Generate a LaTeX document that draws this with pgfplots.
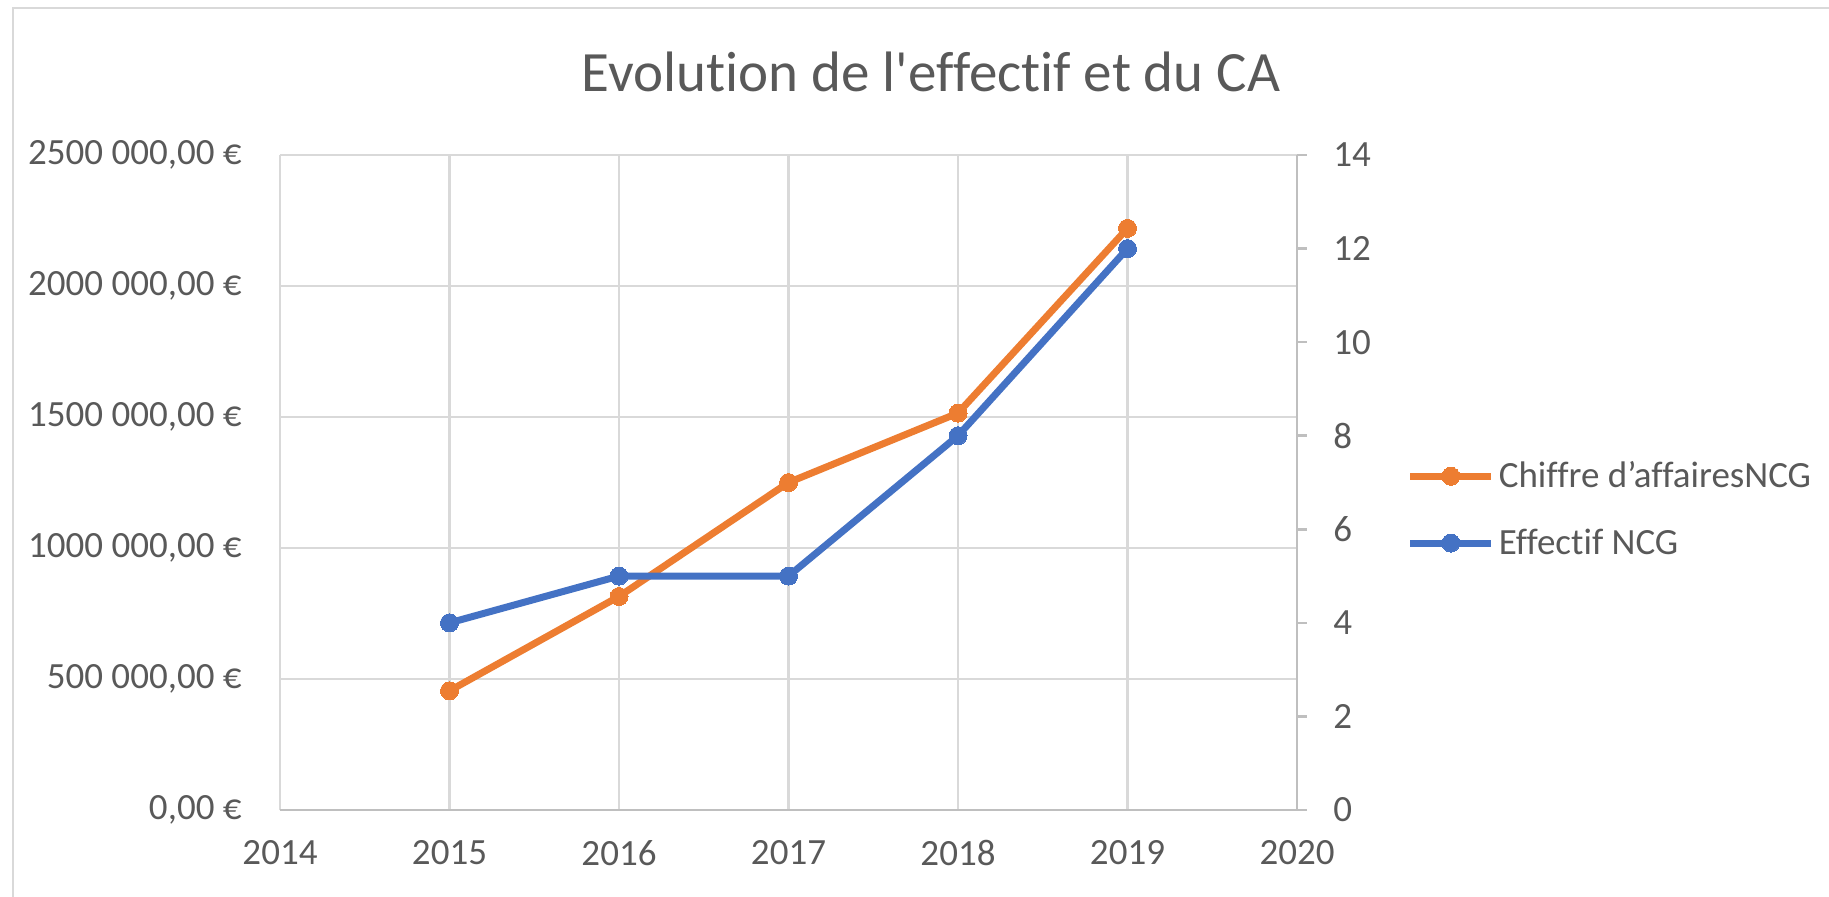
\documentclass[border=0pt]{standalone}
\usepackage{pgfplots}
\pgfplotsset{compat=1.18}
\usepackage{fontspec}
\setmainfont{Carlito}[Ligatures={TeX,NoCommon}]
\definecolor{caorange}{HTML}{ED7D31}
\definecolor{effblue}{HTML}{4472C4}
\definecolor{txt}{HTML}{595959}
\definecolor{gridc}{HTML}{D9D9D9}
\definecolor{axisgray}{HTML}{BFBFBF}
\begin{document}
\begin{tikzpicture}
\useasboundingbox (0,0) rectangle (914.5pt,448pt);
\draw[gridc, line width=1.25pt] (6.5pt,-5pt) -- (6.5pt,444pt) -- (920pt,444pt);
\node[text=txt, font=\fontsize{28.5}{33}\selectfont, anchor=base, inner sep=0pt] at (465.5pt,402pt) {Evolution de l\textquotesingle effectif et du CA};
\begin{axis}[
  at={(140pt,43pt)}, anchor=south west, scale only axis,
  width=508.5pt, height=327.5pt,
  xmin=2014, xmax=2020, ymin=0, ymax=2500000,
  xtick={2014,2015,2016,2017,2018,2019,2020},
  xticklabels={2014,2015,2016,2017,2018,2019,2020},
  ytick={0,500000,1000000,1500000,2000000,2500000},
  yticklabels={{0,00 €},{500 000,00 €},{1000 000,00 €},{1500 000,00 €},{2000 000,00 €},{2500 000,00 €}},
  scaled y ticks=false, scaled x ticks=false,
  axis x line*=bottom, axis y line*=left,
  x axis line style={axisgray, line width=1.25pt, -},
  y axis line style={draw=none},
  grid=major, major grid style={gridc, line width=1.25pt},
  xtick style={draw=none}, ytick style={draw=none},
  tick label style={font=\fontsize{18.5}{22}\selectfont, text=txt},
  xticklabel style={anchor=center, inner sep=0pt, yshift=-21.5pt},
  yticklabel style={anchor=east, inner sep=0pt, xshift=-19pt},
]
\addplot[caorange, line width=3.5pt, mark=*, mark size=4.5pt, mark options={solid, fill=caorange, draw=caorange, line width=0pt}]
  coordinates {(2015,455000)(2016,815000)(2017,1250000)(2018,1515000)(2019,2220000)};
\end{axis}
\begin{axis}[
  at={(140pt,43pt)}, anchor=south west, scale only axis,
  width=508.5pt, height=327.5pt,
  xmin=2014, xmax=2020, ymin=0, ymax=14,
  ytick={0,2,4,6,8,10,12,14},
  /pgf/number format/assume math mode=true,
  axis x line=none, axis y line*=right,
  y axis line style={axisgray, line width=1.25pt, -},
  ytick style={axisgray, line width=1.25pt}, tick align=outside, major tick length=5pt,
  tick label style={font=\fontsize{18.5}{22}\selectfont, text=txt},
  yticklabel style={anchor=west, inner sep=0pt, xshift=13pt},
  legend style={at={(axis description cs:1.108,0.4588)}, anchor=west, draw=none, fill=none,
    inner sep=0pt, outer sep=0pt, font=\fontsize{18.5}{22}\selectfont, text=txt,
    row sep=15pt, nodes={inner sep=2pt}},
  legend cell align=left,
  legend image code/.code={\draw[mark repeat=2, mark phase=2] plot coordinates {(0pt,0pt)(20.25pt,0pt)(40.5pt,0pt)};},
]
\addlegendimage{caorange, line width=3.5pt, mark=*, mark size=4.5pt, mark options={solid, fill=caorange, draw=caorange, line width=0pt}}
\addlegendentry{Chiffre d’affairesNCG}
\addplot[effblue, line width=3.5pt, mark=*, mark size=4.5pt, mark options={solid, fill=effblue, draw=effblue, line width=0pt}]
  coordinates {(2015,4)(2016,5)(2017,5)(2018,8)(2019,12)};
\addlegendentry{Effectif NCG}
\end{axis}
\end{tikzpicture}
\end{document}
